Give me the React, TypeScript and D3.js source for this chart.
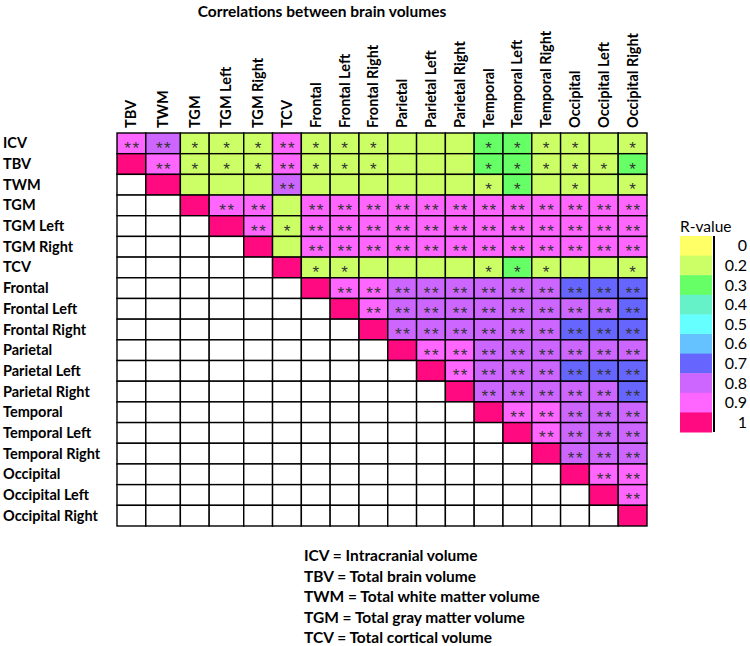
import React from "react";
import * as d3 from "d3";

// ---------- data ----------
const rowLabels = [
  "ICV", "TBV", "TWM", "TGM", "TGM Left", "TGM Right", "TCV",
  "Frontal", "Frontal Left", "Frontal Right",
  "Parietal", "Parietal Left", "Parietal Right",
  "Temporal", "Temporal Left", "Temporal Right",
  "Occipital", "Occipital Left", "Occipital Right",
];
const colLabels = [
  "TBV", "TWM", "TGM", "TGM Left", "TGM Right", "TCV",
  "Frontal", "Frontal Left", "Frontal Right",
  "Parietal", "Parietal Left", "Parietal Right",
  "Temporal", "Temporal Left", "Temporal Right",
  "Occipital", "Occipital Left", "Occipital Right",
];
const _ = null;
// R-values (binned as in the legend); null = empty cell
const rValues: (number | null)[][] = [
  [0.9, 0.8, 0.2, 0.2, 0.2, 0.9, 0.2, 0.2, 0.2, 0.2, 0.2, 0.2, 0.3, 0.3, 0.2, 0.2, 0.2, 0.2],
  [1, 0.9, 0.2, 0.2, 0.2, 0.9, 0.2, 0.2, 0.2, 0.2, 0.2, 0.2, 0.3, 0.3, 0.2, 0.2, 0.2, 0.3],
  [_, 1, 0.2, 0.2, 0.2, 0.8, 0.2, 0.2, 0.2, 0.2, 0.2, 0.2, 0.2, 0.3, 0.2, 0.2, 0.2, 0.2],
  [_, _, 1, 0.9, 0.9, 0.2, 0.9, 0.9, 0.9, 0.9, 0.9, 0.9, 0.9, 0.9, 0.9, 0.9, 0.9, 0.9],
  [_, _, _, 1, 0.9, 0.2, 0.9, 0.9, 0.9, 0.9, 0.9, 0.9, 0.9, 0.9, 0.9, 0.9, 0.9, 0.9],
  [_, _, _, _, 1, 0.2, 0.9, 0.9, 0.9, 0.9, 0.9, 0.9, 0.9, 0.9, 0.9, 0.9, 0.9, 0.9],
  [_, _, _, _, _, 1, 0.2, 0.2, 0.2, 0.2, 0.2, 0.2, 0.2, 0.3, 0.2, 0.2, 0.2, 0.2],
  [_, _, _, _, _, _, 1, 0.9, 0.9, 0.8, 0.8, 0.8, 0.8, 0.8, 0.8, 0.7, 0.7, 0.7],
  [_, _, _, _, _, _, _, 1, 0.9, 0.8, 0.8, 0.8, 0.8, 0.8, 0.8, 0.8, 0.8, 0.7],
  [_, _, _, _, _, _, _, _, 1, 0.8, 0.8, 0.8, 0.8, 0.8, 0.8, 0.7, 0.7, 0.7],
  [_, _, _, _, _, _, _, _, _, 1, 0.9, 0.9, 0.8, 0.8, 0.8, 0.8, 0.8, 0.8],
  [_, _, _, _, _, _, _, _, _, _, 1, 0.9, 0.8, 0.8, 0.8, 0.7, 0.7, 0.7],
  [_, _, _, _, _, _, _, _, _, _, _, 1, 0.8, 0.8, 0.8, 0.8, 0.8, 0.7],
  [_, _, _, _, _, _, _, _, _, _, _, _, 1, 0.9, 0.9, 0.8, 0.8, 0.8],
  [_, _, _, _, _, _, _, _, _, _, _, _, _, 1, 0.9, 0.8, 0.8, 0.8],
  [_, _, _, _, _, _, _, _, _, _, _, _, _, _, 1, 0.8, 0.8, 0.8],
  [_, _, _, _, _, _, _, _, _, _, _, _, _, _, _, 1, 0.9, 0.9],
  [_, _, _, _, _, _, _, _, _, _, _, _, _, _, _, _, 1, 0.9],
  [_, _, _, _, _, _, _, _, _, _, _, _, _, _, _, _, _, 1],
];
// significance stars per cell (0 = none)
const significance: number[][] = [
  [2, 2, 1, 1, 1, 2, 1, 1, 1, 0, 0, 0, 1, 1, 1, 1, 0, 1],
  [0, 2, 1, 1, 1, 2, 1, 1, 1, 0, 0, 0, 1, 1, 1, 1, 1, 1],
  [0, 0, 0, 0, 0, 2, 0, 0, 0, 0, 0, 0, 1, 1, 0, 1, 0, 1],
  [0, 0, 0, 2, 2, 0, 2, 2, 2, 2, 2, 2, 2, 2, 2, 2, 2, 2],
  [0, 0, 0, 0, 2, 1, 2, 2, 2, 2, 2, 2, 2, 2, 2, 2, 2, 2],
  [0, 0, 0, 0, 0, 0, 2, 2, 2, 2, 2, 2, 2, 2, 2, 2, 2, 2],
  [0, 0, 0, 0, 0, 0, 1, 1, 0, 0, 0, 0, 1, 1, 1, 0, 0, 1],
  [0, 0, 0, 0, 0, 0, 0, 2, 2, 2, 2, 2, 2, 2, 2, 2, 2, 2],
  [0, 0, 0, 0, 0, 0, 0, 0, 2, 2, 2, 2, 2, 2, 2, 2, 2, 2],
  [0, 0, 0, 0, 0, 0, 0, 0, 0, 2, 2, 2, 2, 2, 2, 2, 2, 2],
  [0, 0, 0, 0, 0, 0, 0, 0, 0, 0, 2, 2, 2, 2, 2, 2, 2, 2],
  [0, 0, 0, 0, 0, 0, 0, 0, 0, 0, 0, 2, 2, 2, 2, 2, 2, 2],
  [0, 0, 0, 0, 0, 0, 0, 0, 0, 0, 0, 0, 2, 2, 2, 2, 2, 2],
  [0, 0, 0, 0, 0, 0, 0, 0, 0, 0, 0, 0, 0, 2, 2, 2, 2, 2],
  [0, 0, 0, 0, 0, 0, 0, 0, 0, 0, 0, 0, 0, 0, 2, 2, 2, 2],
  [0, 0, 0, 0, 0, 0, 0, 0, 0, 0, 0, 0, 0, 0, 0, 2, 2, 2],
  [0, 0, 0, 0, 0, 0, 0, 0, 0, 0, 0, 0, 0, 0, 0, 0, 2, 2],
  [0, 0, 0, 0, 0, 0, 0, 0, 0, 0, 0, 0, 0, 0, 0, 0, 0, 2],
  [0, 0, 0, 0, 0, 0, 0, 0, 0, 0, 0, 0, 0, 0, 0, 0, 0, 0],
];
const legendValues = [0, 0.2, 0.3, 0.4, 0.5, 0.6, 0.7, 0.8, 0.9, 1];
const legendLabels = ["0", "0.2", "0.3", "0.4", "0.5", "0.6", "0.7", "0.8", "0.9", "1"];
const legendColors = [
  "#FFFF66", "#CCFF66", "#66FF66", "#66F2C8", "#66FFFF",
  "#66C2FF", "#6666FF", "#CC66FF", "#FF66FF", "#FF0A80",
];
const footnotes = [
  "ICV = Intracranial volume",
  "TBV = Total brain volume",
  "TWM = Total white matter volume",
  "TGM = Total gray matter volume",
  "TCV = Total cortical volume",
];
const title = "Correlations between brain volumes";

// ---------- layout ----------
const W = 750, H = 646;
const gridLeft = 117, gridRight = 647, gridTop = 133, gridBottom = 526;
// relative column widths (TWM and TGM Left columns are wider in the original)
const colWidthWeights = colLabels.map((c) => (c === "TWM" || c === "TGM Left" ? 1.2 : 1));
const FONT = "Lato, 'Open Sans', sans-serif";
const STAR_FONT = "'Liberation Sans', Arial, sans-serif";

export default function App() {
  const cum = [0, ...d3.cumsum(colWidthWeights)];
  const xs = d3.scaleLinear().domain([0, cum[cum.length - 1]]).range([gridLeft, gridRight]);
  const y = d3.scaleBand<string>().domain(rowLabels).range([gridTop, gridBottom]);
  const color = d3
    .scaleThreshold<number, string>()
    .domain(legendValues.slice(1).map((v, i) => (v + legendValues[i]) / 2))
    .range(legendColors);
  const ly = d3.scaleBand<string>().domain(legendLabels).range([236, 432]);

  const cells: React.ReactNode[] = [];
  const stars: React.ReactNode[] = [];
  rowLabels.forEach((r, ri) => {
    colLabels.forEach((c, ci) => {
      const v = rValues[ri][ci];
      const x0 = xs(cum[ci]);
      const x1 = xs(cum[ci + 1]);
      const y0 = y(r)!;
      cells.push(
        <rect
          key={`c${ri}-${ci}`}
          x={x0}
          y={y0}
          width={x1 - x0}
          height={y.bandwidth()}
          fill={v === null ? "#ffffff" : color(v)}
          stroke="#000"
          strokeWidth={1.4}
        />
      );
      const s = significance[ri][ci];
      if (s > 0) {
        stars.push(
          <text
            key={`s${ri}-${ci}`}
            x={(x0 + x1) / 2 + (s > 1 ? 1 : 0)}
            y={y0 + y.bandwidth() / 2 + 10.5}
            textAnchor="middle"
            fontSize={17}
            fill="#333"
            letterSpacing={s > 1 ? 1.5 : 0}
            fontFamily={STAR_FONT}
          >
            {"*".repeat(s)}
          </text>
        );
      }
    });
  });

  return (
    <svg width={W} height={H} style={{ position: "absolute", left: 0, top: 0, background: "#fff" }}>
      <rect x={0} y={0} width={W} height={H} fill="#fff" />
      <text x={322} y={17} textAnchor="middle" fontSize={15.5} fontWeight="bold" fontFamily={FONT} fill="#000">
        {title}
      </text>
      {colLabels.map((c, ci) => {
        const cx = (xs(cum[ci]) + xs(cum[ci + 1])) / 2;
        return (
          <text
            key={c}
            transform={`translate(${cx + 5},128) rotate(-90)`}
            fontSize={14.5}
            fontWeight="bold"
            fontFamily={FONT}
            fill="#000"
          >
            {c}
          </text>
        );
      })}
      {rowLabels.map((r) => (
        <text
          key={r}
          x={3}
          y={y(r)! + y.bandwidth() / 2 + 5}
          fontSize={14.5}
          fontWeight="bold"
          fontFamily={FONT}
          fill="#000"
        >
          {r}
        </text>
      ))}
      <g>{cells}</g>
      <g>{stars}</g>
      {/* legend */}
      <text x={680} y={232} fontSize={15.5} fontFamily={FONT} fill="#000">
        R-value
      </text>
      {legendLabels.map((l, i) => (
        <g key={l}>
          <rect x={680} y={ly(l)!} width={32} height={ly.bandwidth() + 0.5} fill={legendColors[i]} />
          <text
            x={747}
            y={ly(l)! + ly.bandwidth() / 2 + 5.5}
            textAnchor="end"
            fontSize={16}
            fontFamily={FONT}
            fill="#000"
          >
            {l}
          </text>
        </g>
      ))}
      <line x1={714} x2={714} y1={236} y2={432} stroke="#000" strokeWidth={2} />
      {footnotes.map((f, i) => (
        <text
          key={f}
          x={304}
          y={561 + i * 20.5}
          fontSize={15.5}
          fontWeight="bold"
          fontFamily={FONT}
          fill="#000"
        >
          {f}
        </text>
      ))}
    </svg>
  );
}
